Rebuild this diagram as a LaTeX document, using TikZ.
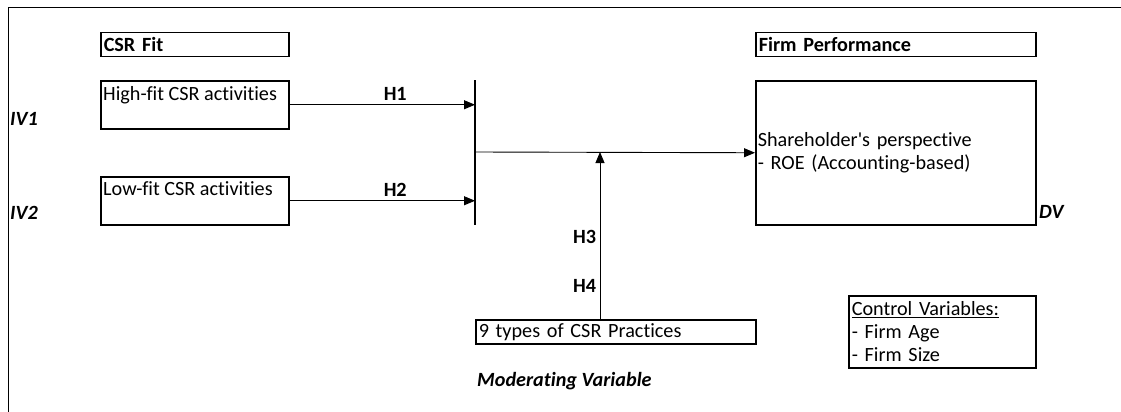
\documentclass[tikz,border=0pt]{standalone}
\usepackage{fontspec}
\setmainfont{Carlito}[Ligatures={NoCommon}]
\usepackage{tikz}
\usetikzlibrary{positioning, arrows.meta, calc}

\tikzset{
    every node/.style={font=\fontsize{20.2}{23}\selectfont},
    framebox/.style={draw, line width=1.5pt, anchor=north west,
                     inner sep=0pt, align=left},
    varlabel/.style={anchor=west, inner sep=1pt, font=\fontsize{20.2}{23}\selectfont\bfseries\itshape},
    hlabel/.style={font=\fontsize{20.2}{23}\selectfont\bfseries},
    link/.style={line width=0.9pt, -{Triangle[length=11pt, width=9pt]}}
}

\begin{document}
\begin{tikzpicture}[x=1pt, y=-1pt]
        \useasboundingbox (0,0) rectangle (1121,412);
        \draw[line width=1pt] (8,412) -- (8,8) -- (1121,8);

        % independent variables
        \node (csrfit) [framebox,
                        minimum width=188pt,
                        minimum height=24pt,
                        text width=182pt,
                        inner xsep=3pt] at (100,32) {\textbf{CSR Fit}};
        \node (highfit) [framebox,
                         minimum width=188pt,
                         minimum height=48pt] at (100,80) {};
        \node [anchor=north west, inner xsep=3pt, inner ysep=6pt] at (highfit.north west) {High-fit CSR activities};
        \node (lowfit) [framebox,
                        minimum width=188pt,
                        minimum height=48pt] at (100,176) {};
        \node [anchor=north west, inner xsep=3pt, inner ysep=5pt] at (lowfit.north west) {Low-fit CSR activities};
        \node (iv1) [varlabel] at (9,119) {IV1};
        \node (iv2) [varlabel] at (9,213) {IV2};

        % dependent variable
        \node (firmperf) [framebox,
                          minimum width=280pt,
                          minimum height=24pt,
                          text width=274pt,
                          inner xsep=3pt] at (755,32) {\textbf{Firm Performance}};
        \node (holder) [framebox,
                        minimum width=280pt,
                        minimum height=144pt,
                        text width=276pt,
                        inner xsep=2pt] at (755,80) {Shareholder\textquotesingle s perspective\\- ROE (Accounting-based)};
        \node (dv) [varlabel] at (1038,212) {DV};

        % moderator
        \node (practices) [framebox,
                           minimum width=280pt,
                           minimum height=24pt,
                           text width=274pt,
                           inner xsep=3pt] at (475,319) {9 types of CSR Practices};
        \node (modlabel) [varlabel] at (476,381) {Moderating Variable};

        % controls
        \node (controls) [framebox,
                          minimum width=187pt,
                          minimum height=72pt,
                          text width=181pt,
                          inner xsep=3pt] at (848,295) {\underline{Control Variables:}\\- Firm Age\\- Firm Size};

        % connectors
        \coordinate (bartop) at (475,80);
        \coordinate (barbot) at (475,225);
        \coordinate (barmid) at (475,152);
        \coordinate (join) at (600,152);
        \draw[line width=2pt] (bartop) -- (barbot);
        \draw[link] (highfit.east) -- (highfit.east -| bartop)
            node[hlabel, above, pos=0.57] {H1};
        \draw[link] (lowfit.east) -- (lowfit.east -| bartop)
            node[hlabel, above, pos=0.57] {H2};
        \draw[link] (barmid) -- (holder.west);
        \draw[link] (practices.north -| join) -- (join)
            node[hlabel, left, pos=0.49] {H3}
            node[hlabel, left, pos=0.2] {H4};
    \end{tikzpicture}
\end{document}
